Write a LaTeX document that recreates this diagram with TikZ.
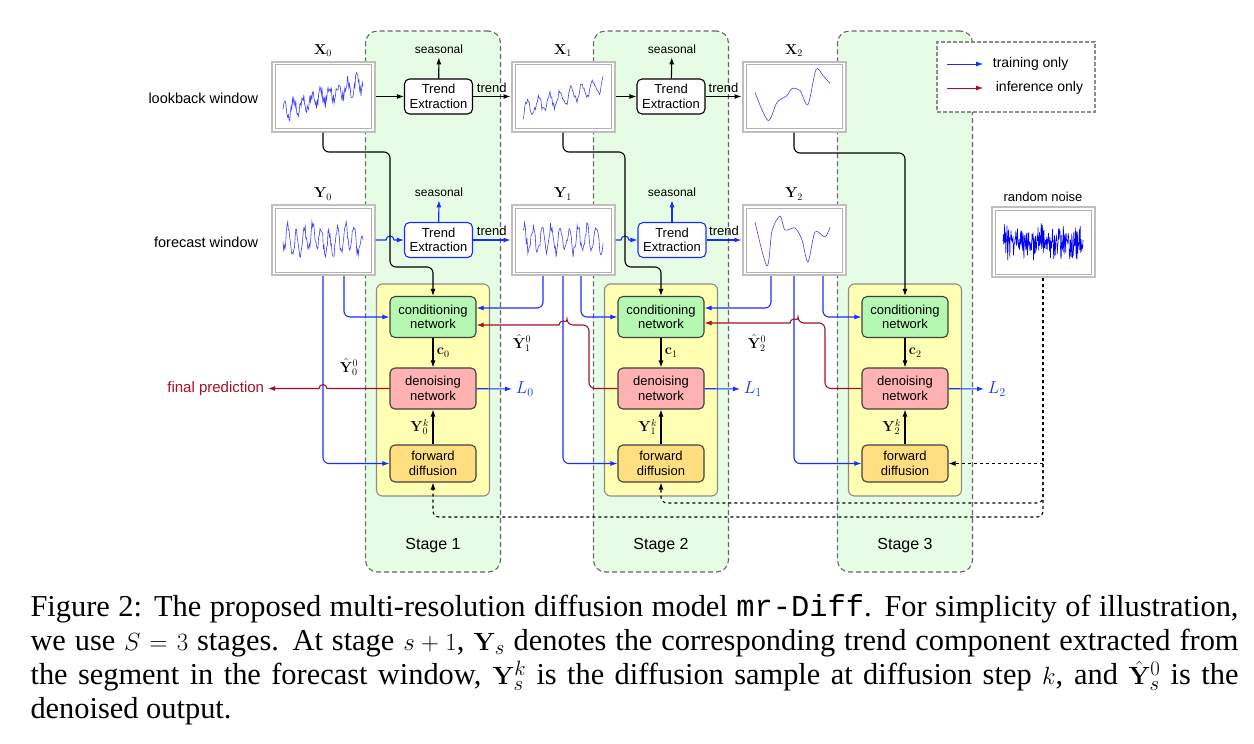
\documentclass[tikz,border=0pt]{standalone}
\usepackage[no-math]{fontspec}
\setmainfont{Liberation Serif}
\setsansfont{Liberation Sans}
\setmonofont{Liberation Mono}
\usetikzlibrary{arrows.meta}

\definecolor{stagegreen}{RGB}{231,252,229}
\definecolor{blockyellow}{RGB}{255,255,180}
\definecolor{condgreen}{RGB}{180,248,178}
\definecolor{denoisepink}{RGB}{255,178,178}
\definecolor{fwdorange}{RGB}{255,222,128}
\definecolor{trainblue}{RGB}{25,45,255}
\definecolor{inferred}{RGB}{165,15,40}

\begin{document}
\begin{tikzpicture}
    [x=1pt, y=-1pt, line width=1.1pt, >={Latex[length=7pt,width=5pt]},
      every node/.style={font=\sffamily\fontsize{13}{14.5}\selectfont, align=center},
      mathlabel/.style={font=\fontsize{14}{16}\selectfont},
      small/.style={font=\sffamily\fontsize{12}{14}\selectfont},
      stagebox/.style={draw=black!60, dash pattern=on 5pt off 3pt, fill=stagegreen, rounded corners=12pt},
      blockbox/.style={draw=black!45, fill=blockyellow, rounded corners=6pt},
      netbox/.style={draw=black!75, rounded corners=5pt, minimum width=86pt, minimum height=41pt, inner sep=1pt},
      trendbox/.style={draw, fill=white, rounded corners=5pt, minimum width=68pt, minimum height=35pt, inner sep=1pt},
      tsframe/.style={draw=black!25, line width=2pt, fill=white, minimum width=103pt, minimum height=70pt,
        path picture={\draw[black!30, line width=0.4pt] ([shift={(4pt,3pt)}]path picture bounding box.south west)
          rectangle ([shift={(-3pt,-3pt)}]path picture bounding box.north east);}},
      tsline/.style={blue!75, line width=0.6pt},
      train/.style={->, trainblue},
      infer/.style={->, inferred},
     ]
    \useasboundingbox (0,0) rectangle (1254,744);
    \pgfmathsetseed{11}

    % the three stages
    \foreach \cx/\m [count=\s from 0] in {433/1, 661/2, 905/3} {
      \node[stagebox, minimum width=135pt, minimum height=541pt] (stage\m) at (\cx,301.5) {};
      \node[font=\sffamily\fontsize{16}{18}\selectfont] (title\m) at (\cx,546) {Stage \m};
      \node[blockbox, minimum width=113pt, minimum height=212pt] (block\s) at (\cx,390) {};
      \node[netbox, fill=condgreen] (cond\s) at (\cx,317) {conditioning\\network};
      \node[netbox, fill=denoisepink] (den\s) at (\cx,388.5) {denoising\\network};
      \node[netbox, fill=fwdorange, minimum height=37pt] (fwd\s) at (\cx,463.5) {forward\\diffusion};
      \draw[->] (cond\s) -- node[right, mathlabel] {$\mathbf{c}_\s$} (den\s);
      \draw[->] (fwd\s) -- node[left, mathlabel] {$\mathbf{Y}_\s^k$} (den\s);
      \node[text=trainblue, anchor=west, font=\fontsize{17}{19}\selectfont] (loss\s) at (\cx+79,389) {$L_\s$};
      \draw[train] (den\s) -- (loss\s);
    }

    % legend
    \node[draw=black!45, dash pattern=on 4pt off 2pt, fill=white, minimum width=158pt, minimum height=70pt] (legend) at (1016,77) {};
    \coordinate (ta) at (947,64);
    \coordinate (tb) at (983,64);
    \coordinate (ia) at (947,88);
    \coordinate (ib) at (983,88);
    \draw[train, line width=0.8pt] (ta) -- (tb);
    \draw[infer, line width=0.8pt] (ia) -- (ib);
    \node[anchor=west, font=\sffamily\fontsize{14}{16}\selectfont] (ltrain) at (989,64) {training only};
    \node[anchor=west, font=\sffamily\fontsize{14}{16}\selectfont] (linfer) at (992,88) {inference only};

    % windows
    \node[anchor=east, font=\sffamily\fontsize{14.5}{16}\selectfont] (lookback) at (262,98) {lookback window};
    \node[anchor=east, font=\sffamily\fontsize{14.5}{16}\selectfont] (forecast) at (262,242) {forecast window};

    \node[tsframe, label={[mathlabel]above:$\mathbf{X}_0$}] (x0) at (323,96.5) {};
    \node[tsframe, label={[mathlabel]above:$\mathbf{X}_1$}] (x1) at (563,96.5) {};
    \node[tsframe, label={[mathlabel]above:$\mathbf{X}_2$}] (x2) at (794,96.5) {};
    \node[tsframe, label={[mathlabel]above:$\mathbf{Y}_0$}] (y0) at (323,240) {};
    \node[tsframe, label={[mathlabel]above:$\mathbf{Y}_1$}] (y1) at (563,240) {};
    \node[tsframe, label={[mathlabel]above:$\mathbf{Y}_2$}] (y2) at (794,240) {};
    \node[tsframe, label={above:random noise}] (noise) at (1043,242) {};

    \draw[tsline, shift={(x0.center)}] plot[domain=-40:40, samples=120] (\x, {15 - 0.36*(\x+40) + 7*sin(\x*40) + 6*rand});
    \draw[tsline, shift={(x1.center)}] plot[domain=-40:40, samples=90] (\x, {13 - 0.3*(\x+40) + 8*sin(\x*33) + 3.5*rand});
    \draw[tsline, shift={(x2.center)}] plot[smooth] coordinates {(-39,-4) (-26,24) (-17,6) (-7,-1) (-2,-8) (6,-6) (14,8) (22,-27) (29,-21) (36,-13)};
    \draw[tsline, shift={(y0.center)}] plot[domain=-40:40, samples=120] (\x, {12*sin(\x*44) + 5*sin(\x*11) + 5*rand});
    \draw[tsline, shift={(y1.center)}] plot[domain=-40:40, samples=100] (\x, {13*sin(\x*40+20) + 6*rand});
    \draw[tsline, shift={(y2.center)}] plot[smooth] coordinates {(-39,-18) (-27,26) (-22,-9) (-14,-24) (-9,-10) (1,-12) (8,0) (14,22) (21,-8) (31,-3) (36,-13)};
    \draw[tsline, blue, shift={(noise.center)}] plot[domain=-40:40, samples=200] (\x, {10*(rand+rand)});

    % trend extraction
    \node[trendbox] (te0) at (438.5,96.5) {Trend\\Extraction};
    \node[trendbox] (te1) at (671,96.5) {Trend\\Extraction};
    \node[trendbox, draw=trainblue] (tf0) at (438.5,240) {Trend\\Extraction};
    \node[trendbox, draw=trainblue] (tf1) at (672,240) {Trend\\Extraction};
    \node[small] (se0) at (439,49) {seasonal};
    \node[small] (se1) at (672,49) {seasonal};
    \node[small] (sf0) at (439,192) {seasonal};
    \node[small] (sf1) at (672,192) {seasonal};

    \draw[->] (x0) -- (te0);
    \draw[->] (te0) -- (se0);
    \draw[->] (te0) -- node[above] {trend} (x1);
    \draw[->] (x1) -- (te1);
    \draw[->] (te1) -- (se1);
    \draw[->] (te1) -- node[above] {trend} (x2);

    \draw[train] (y0) -- (386,240) arc[start angle=180, end angle=0, radius=4pt] -- (tf0);
    \draw[train] (tf0) -- (sf0);
    \draw[train] (tf0) -- node[above, text=black] {trend} (y1);
    \draw[train] (y1) -- (621,240) arc[start angle=180, end angle=0, radius=4pt] -- (tf1);
    \draw[train] (tf1) -- (sf1);
    \draw[train] (tf1) -- node[above, text=black] {trend} (y2);

    % lookback segments into the conditioning networks
    \draw[->, rounded corners=6pt] (x0.south) |- (390,152) |- (433,267) -- (cond0);
    \draw[->, rounded corners=6pt] (x1.south) |- (625,152) |- (661,267) -- (cond1);
    \draw[->, rounded corners=6pt] (x2.south) |- (905,153) -- (cond2);

    % forecast segments (training)
    \draw[train, rounded corners=6pt] (y0.south) |- (fwd0);
    \draw[train, rounded corners=6pt] ([xshift=21pt]y0.south) |- (cond0);
    \draw[train, rounded corners=6pt] ([xshift=-20pt]y1.south) |- ([yshift=9pt]cond0.east);
    \draw[train, rounded corners=6pt] (y1.south) |- (fwd1);
    \draw[train, rounded corners=6pt] ([xshift=18pt]y1.south) |- (cond1);
    \draw[train, rounded corners=6pt] ([xshift=-23pt]y2.south) |- ([yshift=9pt]cond1.east);
    \draw[train, rounded corners=6pt] (y2.south) |- (fwd2);
    \draw[train, rounded corners=6pt] ([xshift=29pt]y2.south) |- (cond2);

    % denoised outputs (inference)
    \node[anchor=east, text=inferred, font=\sffamily\fontsize{15}{17}\selectfont] (fp) at (268,388.5) {final prediction};
    \draw[infer] (den0) -- (327,388.5) arc[start angle=0, end angle=180, radius=4pt] -- (fp);
    \draw[infer] (den1) [rounded corners=6pt] -| (589,325) -- (567,325) [sharp corners]
      arc[start angle=0, end angle=180, radius=4pt] -- ([yshift=-8pt]cond0.east);
    \draw[infer] (den2) [rounded corners=6pt] -| (825,323) -- (798,323) [sharp corners]
      arc[start angle=0, end angle=180, radius=4pt] -- ([yshift=-6pt]cond1.east);
    \node[mathlabel] (yhat0) at (349,367) {$\hat{\mathbf{Y}}_0^0$};
    \node[mathlabel] (yhat1) at (522,343) {$\hat{\mathbf{Y}}_1^0$};
    \node[mathlabel] (yhat2) at (757,343) {$\hat{\mathbf{Y}}_2^0$};

    % random noise into the forward diffusion
    \draw[->, dashed, rounded corners=6pt] (noise) |- (433,517) -- (fwd0);
    \draw[->, dashed, rounded corners=6pt] (noise) |- (661,503) -- (fwd1);
    \draw[->, dashed] (noise) |- (fwd2);

    % caption
    \node[anchor=north west, text width=1208pt, align=justify, inner sep=0pt,
      font=\rmfamily\fontsize{30.4}{34}\selectfont] (caption) at (30,594)
      {Figure 2: The proposed multi-resolution diffusion model \texttt{mr-Diff}. For simplicity of illustration,\linebreak
       we use $S=3$ stages. At stage $s+1$, $\mathbf{Y}_s$ denotes the corresponding trend component extracted from\linebreak
       the segment in the forecast window, $\mathbf{Y}_s^k$ is the diffusion sample at diffusion step $k$, and $\hat{\mathbf{Y}}_s^0$ is the\linebreak
       denoised output.};
\end{tikzpicture}
\end{document}
